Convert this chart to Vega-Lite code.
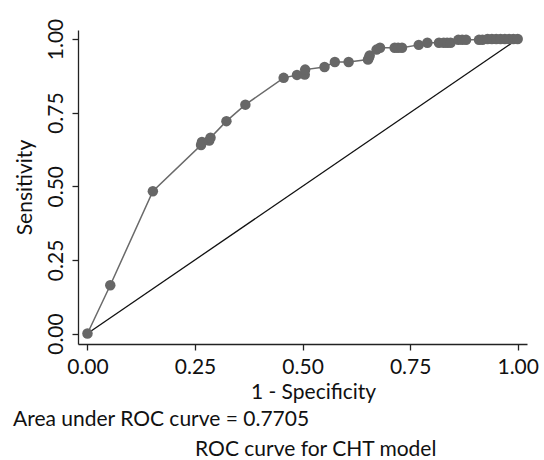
{
  "$schema": "https://vega.github.io/schema/vega-lite/v6.json",
  "background": "white",
  "padding": {"left": 13, "top": 18, "right": 5, "bottom": 0},
  "title": {"text": "ROC curve for CHT model", "orient": "bottom", "anchor": "middle", "font": "Lato", "fontSize": 21, "fontWeight": "normal", "color": "#111111", "offset": 9, "dx": 40},
  "config": {
    "view": {"stroke": null},
    "axis": {"domainColor": "#222222", "tickColor": "#222222", "domainWidth": 1.3, "tickWidth": 1.3, "tickSize": 6, "grid": false, "labelFont": "Lato", "labelFontSize": 21, "labelColor": "#111111", "labelPadding": 6, "titleFont": "Lato", "titleFontSize": 21, "titleFontWeight": "normal", "titleColor": "#111111"}
  },
  "datasets": {
    "roc": [
      {"fpr": 0.0, "sens": 0.0},
      {"fpr": 0.053, "sens": 0.164},
      {"fpr": 0.152, "sens": 0.483},
      {"fpr": 0.264, "sens": 0.640},
      {"fpr": 0.266, "sens": 0.650},
      {"fpr": 0.283, "sens": 0.655},
      {"fpr": 0.286, "sens": 0.665},
      {"fpr": 0.323, "sens": 0.721},
      {"fpr": 0.367, "sens": 0.777},
      {"fpr": 0.456, "sens": 0.868},
      {"fpr": 0.487, "sens": 0.878},
      {"fpr": 0.505, "sens": 0.879},
      {"fpr": 0.506, "sens": 0.896},
      {"fpr": 0.551, "sens": 0.905},
      {"fpr": 0.575, "sens": 0.922},
      {"fpr": 0.607, "sens": 0.922},
      {"fpr": 0.652, "sens": 0.930},
      {"fpr": 0.654, "sens": 0.936},
      {"fpr": 0.656, "sens": 0.944},
      {"fpr": 0.672, "sens": 0.964},
      {"fpr": 0.680, "sens": 0.970},
      {"fpr": 0.714, "sens": 0.970},
      {"fpr": 0.722, "sens": 0.970},
      {"fpr": 0.731, "sens": 0.970},
      {"fpr": 0.770, "sens": 0.980},
      {"fpr": 0.790, "sens": 0.987},
      {"fpr": 0.817, "sens": 0.987},
      {"fpr": 0.828, "sens": 0.987},
      {"fpr": 0.836, "sens": 0.987},
      {"fpr": 0.844, "sens": 0.987},
      {"fpr": 0.862, "sens": 0.997},
      {"fpr": 0.871, "sens": 0.997},
      {"fpr": 0.880, "sens": 0.997},
      {"fpr": 0.910, "sens": 0.997},
      {"fpr": 0.918, "sens": 0.997},
      {"fpr": 0.930, "sens": 1.0},
      {"fpr": 0.940, "sens": 1.0},
      {"fpr": 0.950, "sens": 1.0},
      {"fpr": 0.960, "sens": 1.0},
      {"fpr": 0.970, "sens": 1.0},
      {"fpr": 0.980, "sens": 1.0},
      {"fpr": 0.990, "sens": 1.0},
      {"fpr": 1.0, "sens": 1.0}
    ],
    "diag": [
      {"fpr": 0, "sens": 0},
      {"fpr": 1, "sens": 1}
    ]
  },
  "vconcat": [
    {
      "width": 449,
      "height": 314,
      "title": {"text": "Area under ROC curve = 0.7705", "orient": "bottom", "anchor": "start", "frame": "bounds", "font": "Lato", "fontSize": 21, "fontWeight": "normal", "color": "#111111", "offset": 7, "dx": -1},
      "encoding": {
        "x": {"field": "fpr", "type": "quantitative", "scale": {"domain": [-0.022, 1.0216], "nice": false, "zero": false},
              "axis": {"values": [0, 0.25, 0.5, 0.75, 1], "format": ".2f", "title": "1 - Specificity", "titlePadding": 4, "titleX": 235}},
        "y": {"field": "sens", "type": "quantitative", "scale": {"domain": [-0.0356, 1.0305], "nice": false, "zero": false},
              "axis": {"values": [0, 0.25, 0.5, 0.75, 1], "format": ".2f", "title": "Sensitivity", "labelAngle": -90, "titlePadding": 10}}
      },
      "layer": [
        {
          "data": {"name": "diag"},
          "mark": {"type": "line", "color": "#111111", "strokeWidth": 1.3}
        },
        {
          "data": {"name": "roc"},
          "mark": {"type": "line", "color": "#6a6a6a", "strokeWidth": 1.5, "point": {"filled": true, "size": 110, "color": "#676767", "opacity": 1}}
        }
      ]
    }
  ]
}
